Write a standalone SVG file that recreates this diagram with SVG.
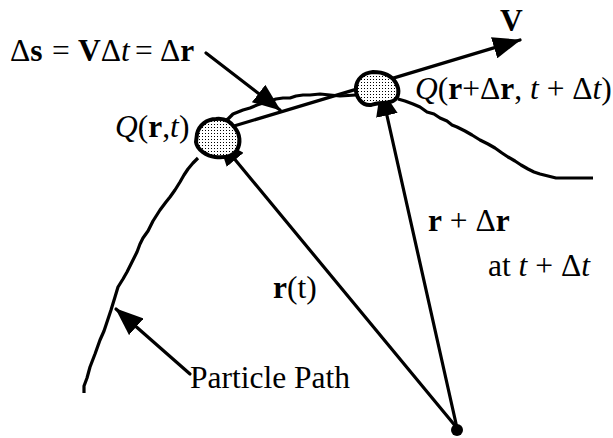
<svg xmlns="http://www.w3.org/2000/svg" width="613" height="438" viewBox="0 0 613 438">
<defs>
<style>
.ln{fill:none;stroke:#000;stroke-width:3.2;stroke-linecap:round;stroke-linejoin:round}
.path{fill:none;stroke:#000;stroke-width:3.2;stroke-linejoin:round}
.blob{fill:url(#dots);stroke:#000;stroke-width:4}
text{font-family:"Liberation Serif","Times New Roman",serif;font-size:31.5px;fill:#000}
.b{font-weight:bold}
.i{font-style:italic}
</style>
<pattern id="dots" width="3" height="3" patternUnits="userSpaceOnUse">
<rect width="3" height="3" fill="#fff"/>
<rect x="1" y="1" width="1" height="1" fill="#000"/>
</pattern>
<marker id="ah" markerUnits="userSpaceOnUse" markerWidth="30" markerHeight="22" refX="27" refY="11" orient="auto">
<path d="M0,0 L28,11 L0,22 Z" fill="#000"/>
</marker>
</defs>
<rect width="613" height="438" fill="#fff"/>
<g id="particle-path">
<path class="path" d="M84,393 L84,386 L87,378 L90,367 L95,354 L100,340 L104,331 L107,322 L111,310 L115,297 L118,287 L123,279 L127,272 L132,262 L137,252 L140,244 L143,238 L148,231 L153,221 L160,210 L166,202 L170,197 L175,190 L180,182 L184,175 L188,169 L193,163 L198,158"/>
<path class="path" d="M222,122 L228,119 L233,114 L238,112 L243,110 L250,108 L257,105 L263,103 L270,101 L276,99 L283,98 L290,98 L296,96 L303,95 L310,95 L320,94 L330,95 L340,96 L356,95"/>
<path class="path" d="M398,99 L405,101 L413,104 L420,107 L427,112 L434,114 L440,118 L447,121 L452,125 L457,127 L465,131 L472,135 L480,140 L488,144 L495,148 L502,153 L508,157 L515,161 L521,165 L528,169 L534,172 L540,174 L548,176 L556,178 L575,178 L593,178"/>
</g>
<g id="connectors">
<line class="ln" x1="224" y1="129" x2="520" y2="40" marker-end="url(#ah)"/>
<line class="ln" x1="206" y1="53" x2="280" y2="110" marker-end="url(#ah)"/>
<line class="ln" x1="457" y1="428" x2="218" y2="139" marker-end="url(#ah)"/>
<line class="ln" x1="457" y1="428" x2="381" y2="89" marker-end="url(#ah)"/>
<line class="ln" x1="190" y1="374" x2="116" y2="309" marker-end="url(#ah)"/>
</g>
<g id="blob-q1">
<path class="blob" d="M197,134 C199,125 207,119 216,119 C225,118 231,122 235,128 C240,134 241,143 237,150 C233,156 224,158 215,157 C207,156 197,150 196,142 Z"/>
</g>
<g id="blob-q2">
<path class="blob" d="M356,87 C357,79 363,73 373,72 C384,72 392,76 396,83 C400,90 399,98 393,101 C387,104 379,102 371,105 C362,106 355,97 356,87 Z"/>
</g>
<g id="origin">
<circle cx="457" cy="430" r="6" fill="#000"/>
</g>
<g id="labels">
<text y="61"><tspan x="10">Δ</tspan><tspan class="b">s</tspan><tspan x="52">=</tspan><tspan x="78" class="b">V</tspan><tspan>Δ</tspan><tspan class="i">t</tspan><tspan x="135">=</tspan><tspan x="160">Δ</tspan><tspan class="b">r</tspan></text>
<text x="500" y="31" class="b">V</text>
<text x="115" y="137"><tspan class="i">Q</tspan>(<tspan class="b">r</tspan>,<tspan class="i">t</tspan>)</text>
<text x="415" y="99"><tspan class="i">Q</tspan>(<tspan class="b">r</tspan>+Δ<tspan class="b">r</tspan>, <tspan class="i">t</tspan> + Δ<tspan class="i">t</tspan>)</text>
<text x="428" y="231"><tspan class="b">r</tspan> + Δ<tspan class="b">r</tspan></text>
<text x="488" y="276">at <tspan class="i">t</tspan> + Δ<tspan class="i">t</tspan></text>
<text x="273" y="298"><tspan class="b">r</tspan>(t)</text>
<text x="190" y="388">Particle Path</text>
</g>
</svg>
